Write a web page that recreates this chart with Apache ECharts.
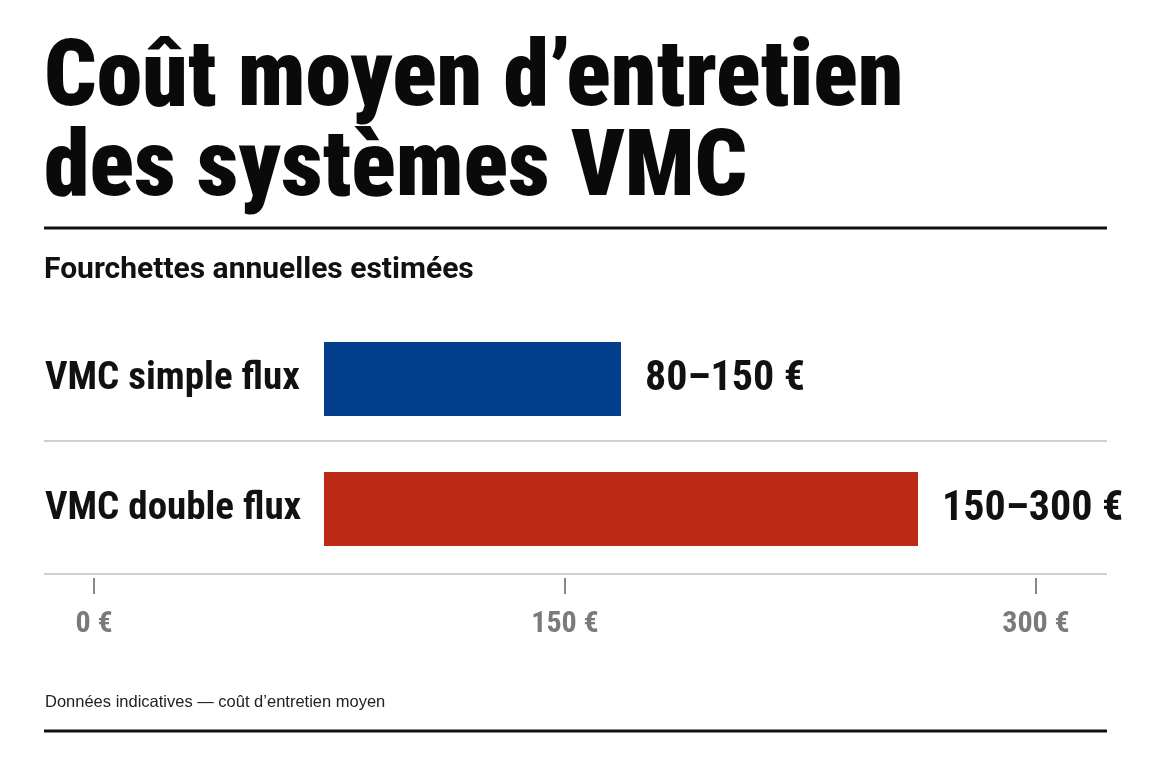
<!DOCTYPE html>
<html>
<head>
<meta charset="utf-8">
<title>Coût moyen d'entretien des systèmes VMC</title>
<script src="https://cdn.jsdelivr.net/npm/echarts@6/dist/echarts.min.js"></script>
<style>
  html, body { margin: 0; padding: 0; background: #fff; }
  #main { width: 1152px; height: 768px; }
</style>
</head>
<body>
<div id="main"></div>
<script>
// données
var categories = ['VMC simple flux', 'VMC double flux'];
var lows = [80, 150];
var highs = [150, 300];
var barColors = ['#033f8c', '#bc2a15'];
var tickValues = [0, 150, 300];

// on prend la première police étroite installée
function pickFont(list) {
    let ctx = document.createElement('canvas').getContext('2d');
    let s = 'VMC simple flux 0123';
    ctx.font = 'bold 40px monospace';
    let base = ctx.measureText(s).width;
    for (let f of list) {
        ctx.font = 'bold 40px "' + f + '", monospace';
        if (ctx.measureText(s).width !== base) return f;
    }
    return 'sans-serif';
}
var narrow = pickFont(['Liberation Sans Narrow', 'Roboto Condensed', 'DejaVu Sans Condensed', 'Roboto']);

var dom = document.getElementById('main');
var myChart = echarts.init(dom);

var option = {
    animation: false,
    backgroundColor: '#fff',
    title: [
        {
            text: 'Coût moyen d’entretien\ndes systèmes VMC',
            left: 39,
            top: 32,
            textStyle: {
                fontFamily: narrow,
                fontWeight: 900,
                fontSize: 92,
                lineHeight: 90,
                color: '#0a0a0a'
            }
        },
        {
            text: 'Fourchettes annuelles estimées',
            left: 39,
            top: 250,
            textStyle: {
                fontFamily: 'Roboto',
                fontWeight: 'bold',
                fontSize: 30,
                color: '#111'
            }
        }
    ],
    grid: [
        {left: 324, right: 234, top: 314, height: 260},
        {left: 94, right: 116, top: 577, height: 1}
    ],
    xAxis: [
        {type: 'value', gridIndex: 0, min: 0, max: 300, show: false},
        {
            type: 'value',
            gridIndex: 1,
            min: tickValues[0],
            max: tickValues[tickValues.length - 1],
            interval: tickValues[1] - tickValues[0],
            axisLine: {show: false},
            axisTick: {show: true, length: 16, lineStyle: {color: '#888', width: 2}},
            splitLine: {show: false},
            axisLabel: {
                formatter: '{value} €',
                color: '#7a7a7a',
                fontFamily: narrow,
                fontWeight: 'bold',
                fontSize: 30,
                margin: 31
            }
        }
    ],
    yAxis: [
        {
            type: 'category',
            gridIndex: 0,
            inverse: true,
            data: categories,
            axisLine: {show: false},
            axisTick: {show: false},
            splitLine: {show: false},
            axisLabel: {
                align: 'left',
                margin: 279,
                color: '#111',
                fontFamily: narrow,
                fontWeight: 'bold',
                fontSize: 39
            }
        },
        {type: 'value', gridIndex: 1, show: false}
    ],
    series: [
        {
            type: 'bar',
            xAxisIndex: 0,
            yAxisIndex: 0,
            barWidth: 74,
            data: highs.map(function (v, i) {
                return {value: v, itemStyle: {color: barColors[i]}};
            }),
            label: {
                show: true,
                position: 'right',
                distance: 24,
                formatter: function (p) {
                    return lows[p.dataIndex] + '–' + highs[p.dataIndex] + ' €';
                },
                color: '#111',
                fontFamily: narrow,
                fontWeight: 'bold',
                fontSize: 42
            }
        }
    ],
    graphic: [
        {type: 'line', shape: {x1: 44, y1: 228, x2: 1107, y2: 228}, style: {stroke: '#111', lineWidth: 3}},
        {type: 'line', shape: {x1: 44, y1: 441, x2: 1107, y2: 441}, style: {stroke: '#cfcfcf', lineWidth: 2}},
        {type: 'line', shape: {x1: 44, y1: 574, x2: 1107, y2: 574}, style: {stroke: '#cfcfcf', lineWidth: 2}},
        {type: 'line', shape: {x1: 44, y1: 731, x2: 1107, y2: 731}, style: {stroke: '#111', lineWidth: 3}},
        {
            type: 'text',
            left: 45,
            top: 694,
            style: {
                text: 'Données indicatives — coût d’entretien moyen',
                font: '16.5px "Liberation Sans", sans-serif',
                fill: '#222'
            }
        }
    ]
};

if (option && typeof option === 'object') {
    myChart.setOption(option, true);
}
</script>
</body>
</html>
